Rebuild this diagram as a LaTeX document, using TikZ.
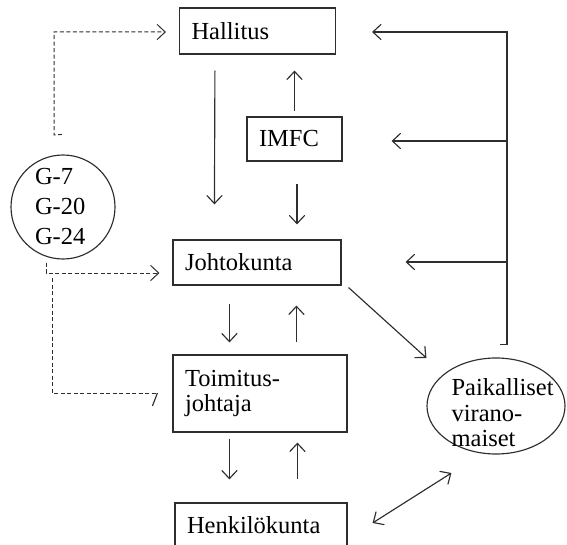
\documentclass[tikz,border=0pt]{standalone}
\usepackage{fontspec}
\setmainfont{Liberation Serif}
\usetikzlibrary{arrows.meta,calc,shapes.geometric}
\newcommand\myfs{\fontsize{24.5pt}{25.5pt}\selectfont}
\begin{document}
\begin{tikzpicture}[x=1pt,y=-1pt,
  line width=1.15pt,
  color=black!82,
  box/.style={draw, rectangle, inner xsep=12pt, inner ysep=0pt, align=left, font=\myfs, text=black},
  tip/.tip={Straight Barb[length=8pt,width=15pt,line cap=round]},
  arr/.style={-tip},
  dsh/.style={dash pattern=on 4pt off 2.5pt, line width=1pt}
]
\useasboundingbox (0,0) rectangle (567,545);

% boxes
\node[box, text width=132pt, minimum height=46pt] (hal) at (257.5,31) {Hallitus};
\node[box, text width=71pt, minimum height=44pt] (imfc) at (294.5,139) {IMFC};
\node[box, text width=144pt, minimum height=45pt] (joh) at (257,262.5) {Johtokunta};
\node[box, text width=150pt, minimum height=77pt] (toim) at (260,393.5) {Toimitus-\\johtaja};
\node[box, text width=148pt, minimum height=45pt] (hen) at (261,525.5) {Henkilökunta};

% G circle
\node[draw, circle, minimum size=104pt, inner sep=0pt, text width=56pt, align=left,
      font=\fontsize{24.5pt}{30pt}\selectfont, text=black] (g) at (63,207) {G-7\\G-20\\G-24};

% local authorities ellipse
\node[draw, ellipse, minimum width=138pt, minimum height=96pt, inner sep=0pt] (pv) at (496,406) {};
\node[anchor=north west, inner sep=0pt, align=left, font=\myfs, text=black] (pvt) at (451,378) {Paikalliset\\virano-\\maiset};

% vertical arrows between boxes
\draw[arr] ($(hal.south west)+(36,16)$) -- ($(joh.north west)+(42,-35)$);
\draw[arr] ($(imfc.north)+(0,-5)$) -- ($(imfc.north |- hal.south)+(0,16)$);
\draw[arr] ($(imfc.south)+(2.5,22)$) -- ($(imfc.south |- joh.north)+(2.5,-15)$);
\draw[arr] ($(joh.south west)+(57,18)$) -- ($(toim.north west)+(57,-12)$);
\draw[arr] ($(toim.north west)+(124,-12)$) -- ($(joh.south west)+(124,20)$);
\draw[arr] ($(toim.south west)+(57,6)$) -- ($(hen.north west)+(55,-23)$);
\draw[arr] ($(hen.north west)+(123,-23)$) -- ($(toim.south west)+(125,10)$);

% right-hand feedback lines
\coordinate (r2) at (507,141);
\coordinate (r3) at (507,262);
\draw[arr] ($(pv.north)+(4,-13)$) -- ++(7,0) -- (507,32) -- ($(hal.east)+(36,1)$);
\draw[arr] (r2) -- ($(imfc.east)+(49,2)$);
\draw[arr] (r3) -- ($(joh.east)+(64,-0.5)$);

% diagonal arrows
\draw[arr] ($(joh.south east)+(7,2)$) -- ($(pv.west)+(0,-48)$);
\draw[tip-tip] ($(hen.east)+(25,-2.5)$) -- ($(pv.west)+(25,67)$);

% dashed G links
\draw[dsh, arr] ($(g.north)+(-1,-20)$) -- (54,135) -- (54,32) -- ($(hal.west)+(-13,1)$);
\draw[dsh, arr] ($(g.south)+(-17,3)$) -- (46,273) -- ($(joh.west)+(-13,10.5)$);
\coordinate (d3) at (52,278);
\coordinate (d3e) at ($(toim.west)+(-15,-0.5)$);
\draw[dsh] (d3) -- (52,393) -- (d3e);
\draw (d3e) -- ++(-5,13);
\end{tikzpicture}
\end{document}
